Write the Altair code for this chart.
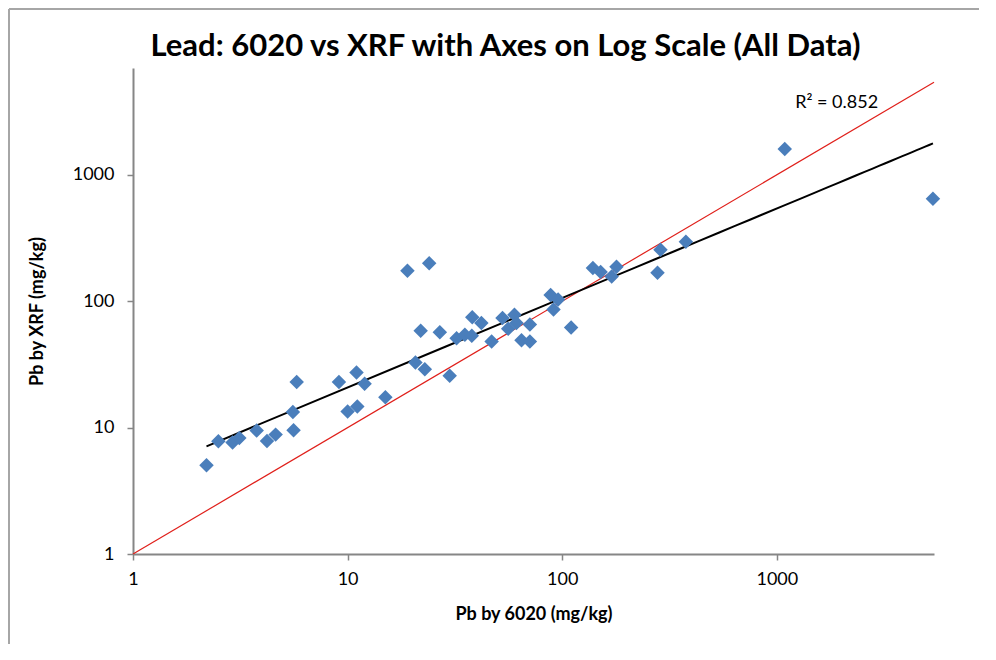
import altair as alt
import pandas as pd

# Pb by 6020 (mg/kg) and Pb by XRF (mg/kg)
pb_6020 = [2.20, 2.50, 2.91, 3.13, 3.77, 4.21, 4.62, 5.56, 5.60, 5.79,
           9.11, 10.0, 11.0, 11.1, 12.0, 15.0, 19.0, 24.0, 21.9, 20.7,
           22.9, 26.9, 29.9, 32.2, 35.2, 37.9, 38.1, 42.0, 46.9, 52.7,
           56.0, 59.9, 61.2, 70.7, 64.6, 70.7, 88.3, 95.7, 91.1, 110,
           139, 151, 170, 179, 278, 287, 377, 1089, 5340]
pb_xrf = [5.04, 7.80, 7.61, 8.29, 9.47, 7.85, 8.80, 13.3, 9.54, 23.0,
          23.0, 13.4, 27.3, 14.7, 22.2, 17.4, 174, 200, 58.3, 32.8,
          28.9, 56.7, 25.7, 51.0, 54.2, 53.2, 74.6, 67.1, 48.0, 73.5,
          60.5, 78.0, 67.1, 65.4, 49.0, 48.0, 112, 103, 86.0, 61.9,
          183, 170, 157, 187, 168, 255, 295, 1600, 647]

one_to_one = [1, 5400]
tick_values = [1, 10, 100, 1000]
r2_text = ["R\u00b2 = 0.852"]
r2_pos_x = [1900]
r2_pos_y = [3700]

pts = pd.DataFrame({"x": pb_6020, "y": pb_xrf})
line_df = pd.DataFrame({"x": one_to_one, "y": one_to_one})
r2_df = pd.DataFrame({"x": r2_pos_x, "y": r2_pos_y, "t": r2_text})

FONT = "Lato"
AX = "#868686"

xscale = alt.Scale(type="log", domain=[1, 5400], nice=False)
yscale = alt.Scale(type="log", domain=[1, 7000], nice=False)

xaxis = alt.Axis(title="Pb by 6020 (mg/kg)", values=tick_values, format="d",
                 grid=False, domainColor=AX, tickColor=AX, domainWidth=2,
                 tickSize=6, tickWidth=1.5, labelFont=FONT, labelFontSize=18,
                 labelColor="black", labelPadding=10, titleFont=FONT,
                 titleFontSize=18, titleFontWeight="bold", titleColor="black",
                 titlePadding=17, labelFlush=False)
yaxis = alt.Axis(title="Pb by XRF  (mg/kg)", values=tick_values, format="d",
                 grid=False, domainColor=AX, tickColor=AX, domainWidth=2,
                 tickSize=6, tickWidth=1.5, labelFont=FONT, labelFontSize=18,
                 labelColor="black", labelPadding=13, titleFont=FONT,
                 titleFontSize=18, titleFontWeight="bold", titleColor="black",
                 titlePadding=26, labelFlush=False)

base_x = alt.X("x:Q", scale=xscale, axis=xaxis)
base_y = alt.Y("y:Q", scale=yscale, axis=yaxis)

red = alt.Chart(line_df).mark_line(color="#E0201B", strokeWidth=1.2).encode(
    x=base_x, y=base_y)

points = alt.Chart(pts).mark_point(shape="diamond", filled=True, size=210,
                                   color="#4A7EBB", opacity=1).encode(
    x=alt.X("x:Q", scale=xscale), y=alt.Y("y:Q", scale=yscale))

trend = alt.Chart(pts).transform_regression(
    "x", "y", method="pow").mark_line(color="black", strokeWidth=2).encode(
    x=alt.X("x:Q", scale=xscale), y=alt.Y("y:Q", scale=yscale))

r2 = alt.Chart(r2_df).mark_text(font=FONT, fontSize=18, color="black",
                                align="center", baseline="middle").encode(
    x=alt.X("x:Q", scale=xscale), y=alt.Y("y:Q", scale=yscale), text="t:N")

frame_src = alt.Data(values=[{"k": 0}])
top_border = alt.Chart(frame_src).mark_rule(color="#A6A6A6", strokeWidth=2).encode(
    x=alt.value(-124), x2=alt.value(860), y=alt.value(-59))
left_border = alt.Chart(frame_src).mark_rule(color="#A6A6A6", strokeWidth=2).encode(
    x=alt.value(-124), y=alt.value(-59), y2=alt.value(600))

chart = alt.layer(red, trend, points, r2, top_border, left_border).properties(
    width=801, height=486,
    padding={"left": 125, "top": 60, "right": 45, "bottom": 90},
    autosize=alt.AutoSizeParams(type="none"),
    title=alt.TitleParams("Lead: 6020 vs XRF with Axes on Log Scale (All Data)",
                          font=FONT, fontSize=31, fontWeight="bold",
                          color="black", anchor="middle", frame="group",
                          dx=-28, dy=63, offset=8),
    background="white",
).configure_view(stroke=None)

chart.save("out.html", embed_options={"renderer": "svg", "actions": False})
